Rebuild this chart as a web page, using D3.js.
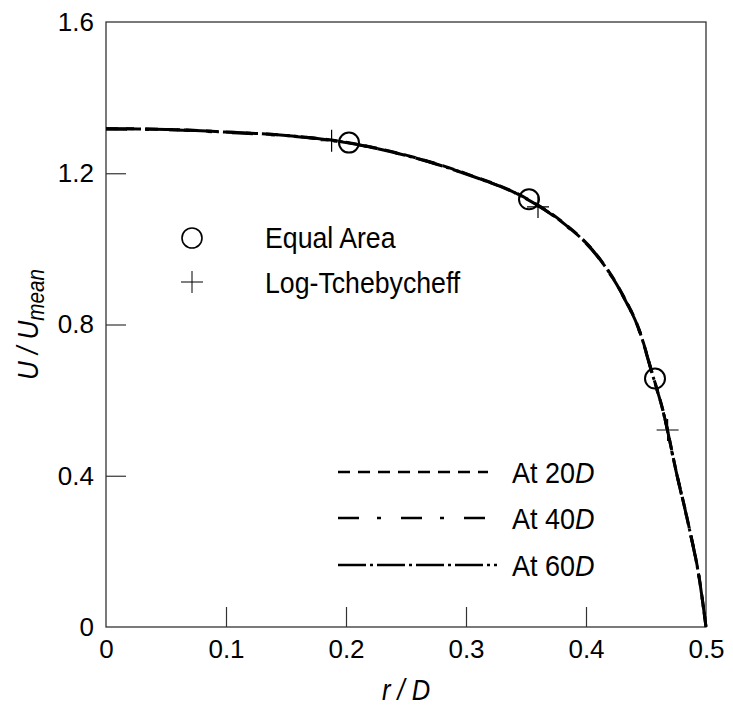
<!DOCTYPE html>
<html>
<head>
<meta charset="utf-8">
<script src="https://cdn.jsdelivr.net/npm/d3@7/dist/d3.min.js"></script>
<style>
  html, body { margin: 0; padding: 0; background: #fff; }
  svg { display: block; font-family: "Liberation Sans", Arial, Helvetica, sans-serif; }
</style>
</head>
<body>
<svg id="chart" width="733" height="713"></svg>
<script>
// Radial positions (r / D) at which the velocity profiles are sampled
const rGrid = [0, 0.05, 0.1, 0.15, 0.2, 0.25, 0.3, 0.35, 0.38, 0.41, 0.43, 0.445, 0.455, 0.465, 0.475, 0.485, 0.495, 0.5];

// Normalised axial velocity U / Umean for the three downstream stations
const u20D = [1.318, 1.316, 1.309, 1.300, 1.282, 1.248, 1.199, 1.134, 1.072, 0.980, 0.882, 0.780, 0.673, 0.562, 0.414, 0.277, 0.117, 0.0];
const u40D = [1.317, 1.315, 1.308, 1.299, 1.281, 1.247, 1.198, 1.133, 1.070, 0.978, 0.880, 0.778, 0.671, 0.560, 0.412, 0.275, 0.116, 0.0];
const u60D = [1.318, 1.316, 1.309, 1.300, 1.281, 1.247, 1.198, 1.133, 1.071, 0.979, 0.881, 0.779, 0.672, 0.561, 0.413, 0.276, 0.116, 0.0];

// Measurement stations: equal-area and log-Tchebycheff traverse points
const equalAreaR = [0.2025, 0.3525, 0.4575];
const equalAreaU = [1.281, 1.131, 0.657];
const logTchebR = [0.188, 0.360, 0.468];
const logTchebU = [1.286, 1.111, 0.521];

// Axis ticks
const xTicks = [0, 0.1, 0.2, 0.3, 0.4, 0.5];
const xTickLabels = ["0", "0.1", "0.2", "0.3", "0.4", "0.5"];
const yTicks = [0, 0.4, 0.8, 1.2, 1.6];
const yTickLabels = ["0", "0.4", "0.8", "1.2", "1.6"];

// Profile series and their dash styles
const seriesNames = ["At 20", "At 40", "At 60"];
const seriesValues = [u20D, u40D, u60D];
const seriesDash = ["12,8", "21,18,4,20", "28,4,3,4"];

const svg = d3.select("#chart");
const margin = { left: 106, right: 27, top: 22, bottom: 86 };
const W = 733, H = 713;

const x = d3.scaleLinear().domain([0, 0.5]).range([margin.left, W - margin.right]);
const y = d3.scaleLinear().domain([0, 1.6]).range([H - margin.bottom, margin.top]);

const frameColor = "#333";

// A text group placed at (px, py) and squeezed horizontally, for a condensed look
function condensedText(parent, px, py, k, rotate) {
  const g = parent.append("g")
    .attr("transform", `translate(${px},${py})${rotate ? ` rotate(${rotate})` : ""} scale(${k},1)`);
  return g.append("text").attr("x", 0).attr("y", 0);
}

// Plot frame
svg.append("rect")
  .attr("x", x(0)).attr("y", y(1.6))
  .attr("width", x(0.5) - x(0)).attr("height", y(0) - y(1.6))
  .attr("fill", "none").attr("stroke", frameColor).attr("stroke-width", 1.3);

// Bottom axis: inward ticks, labels below
const xAxis = d3.axisBottom(x).tickValues(xTicks).tickSizeInner(-20).tickSizeOuter(0)
  .tickPadding(13).tickFormat((d, i) => xTickLabels[i]);
const gx = svg.append("g").attr("transform", `translate(0,${y(0)})`).call(xAxis);
gx.select(".domain").remove();
gx.selectAll(".tick line").attr("stroke", frameColor).attr("stroke-width", 1.2)
  .filter(d => d === 0 || d === 0.5).remove();
gx.selectAll(".tick text").attr("font-size", 26).attr("fill", "#000")
  .attr("font-family", "Liberation Sans, Arial, sans-serif");

// Left axis: inward ticks, labels to the left
const yAxis = d3.axisLeft(y).tickValues(yTicks).tickSizeInner(-20).tickSizeOuter(0)
  .tickPadding(12).tickFormat((d, i) => yTickLabels[i]);
const gy = svg.append("g").attr("transform", `translate(${x(0)},0)`).call(yAxis);
gy.select(".domain").remove();
gy.selectAll(".tick line").attr("stroke", frameColor).attr("stroke-width", 1.2)
  .filter(d => d === 0 || d === 1.6).remove();
gy.selectAll(".tick text").attr("font-size", 26).attr("fill", "#000")
  .attr("font-family", "Liberation Sans, Arial, sans-serif");

// Velocity profiles
const line = d3.line().x(d => x(d[0])).y(d => y(d[1])).curve(d3.curveMonotoneX);
seriesValues.forEach((vals, i) => {
  svg.append("path")
    .datum(rGrid.map((r, k) => [r, vals[k]]))
    .attr("d", line)
    .attr("fill", "none").attr("stroke", "#000")
    .attr("stroke-width", 3)
    .attr("stroke-dasharray", seriesDash[i]);
});

// Equal-area points
svg.append("g").selectAll("circle")
  .data(equalAreaR.map((r, k) => [r, equalAreaU[k]]))
  .join("circle")
  .attr("cx", d => x(d[0])).attr("cy", d => y(d[1])).attr("r", 10)
  .attr("fill", "none").attr("stroke", "#000").attr("stroke-width", 2);

// Log-Tchebycheff points
function plusPath(cx, cy, s) {
  return `M${cx - s},${cy}H${cx + s}M${cx},${cy - s}V${cy + s}`;
}
svg.append("g").selectAll("path")
  .data(logTchebR.map((r, k) => [r, logTchebU[k]]))
  .join("path")
  .attr("d", d => plusPath(x(d[0]), y(d[1]), 11))
  .attr("fill", "none").attr("stroke", "#000").attr("stroke-width", 1.2);

// Marker legend
const mk = svg.append("g");
mk.append("circle").attr("cx", 192).attr("cy", 238).attr("r", 10)
  .attr("fill", "none").attr("stroke", "#000").attr("stroke-width", 1.6);
condensedText(mk, 265, 248, 0.89).attr("font-size", 30).text("Equal Area");
mk.append("path").attr("d", plusPath(192, 282, 11))
  .attr("fill", "none").attr("stroke", "#000").attr("stroke-width", 1);
condensedText(mk, 265, 293, 0.89).attr("font-size", 30).text("Log-Tchebycheff");

// Line-style legend
const legY = [472, 518, 565];
const legEnd = [488, 488, 497];
const lg = svg.append("g");
seriesNames.forEach((name, i) => {
  lg.append("line")
    .attr("x1", 338).attr("x2", legEnd[i]).attr("y1", legY[i]).attr("y2", legY[i])
    .attr("stroke", "#000").attr("stroke-width", 2.6)
    .attr("stroke-dasharray", seriesDash[i]);
  const t = condensedText(lg, 512, legY[i] + 11, 0.9).attr("font-size", 30);
  t.append("tspan").text(name);
  t.append("tspan").attr("font-style", "italic").text("D");
});

// Axis titles
condensedText(svg, (x(0) + x(0.5)) / 2, 700, 0.88)
  .attr("text-anchor", "middle").attr("font-size", 29).attr("font-style", "italic")
  .text("r / D");

const yt = condensedText(svg, 38, (y(0) + y(1.6)) / 2, 0.9, -90)
  .attr("text-anchor", "middle").attr("font-size", 29).attr("font-style", "italic");
yt.append("tspan").text("U / U");
yt.append("tspan").attr("font-size", 23).attr("dy", 6).text("mean");
</script>
</body>
</html>
